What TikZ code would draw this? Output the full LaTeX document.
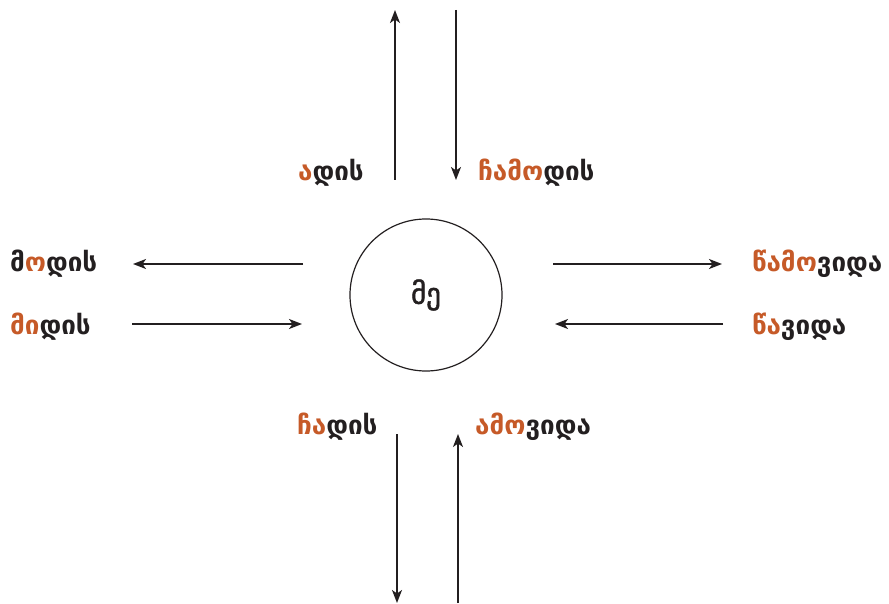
\documentclass[tikz,border=0pt]{standalone}
\usepackage{fontspec}
\setmainfont{DejaVu Sans}
\newfontfamily\mefont[FakeBold=1.6]{DejaVu Sans}
\usetikzlibrary{arrows.meta}
\definecolor{acc}{HTML}{C65A28}
\definecolor{ink}{HTML}{231F20}
\newcommand{\hl}[1]{\textcolor{acc}{#1}}
\tikzset{
  lbl/.style={font=\fontsize{26}{28}\selectfont\bfseries, text=ink, inner sep=0pt, anchor=base west},
  arr/.style={draw=ink, line width=1.6pt, -{Stealth[length=13pt,width=10pt,inset=3.5pt]}},
  me/.style={draw=ink, line width=1.2pt, circle, minimum size=152pt, inner sep=0pt, font=\mefont\fontsize{29}{31}\selectfont, text=ink}
}
\begin{document}
\begin{tikzpicture}[x=1pt,y=-1pt]
\useasboundingbox (0,0) rectangle (889,604);
\node[me] (c) at (426,295) {მე};
% vertical arrow endpoints
\coordinate (u1s) at (395,180); \coordinate (u1e) at (395,10);
\coordinate (d1s) at (456,10);  \coordinate (d1e) at (456,180);
\coordinate (d2s) at (397,434); \coordinate (d2e) at (397,603);
\coordinate (u2s) at (458,603); \coordinate (u2e) at (458,434);
% horizontal
\coordinate (l1s) at (303,264); \coordinate (l1e) at (133,264);
\coordinate (r1s) at (553,264); \coordinate (r1e) at (722,264);
\coordinate (r2s) at (132,324); \coordinate (r2e) at (302,324);
\coordinate (l2s) at (723,324); \coordinate (l2e) at (555,324);
\draw[arr] (u1s) -- (u1e);
\draw[arr] (d1s) -- (d1e);
\draw[arr] (d2s) -- (d2e);
\draw[arr] (u2s) -- (u2e);
\draw[arr] (l1s) -- (l1e);
\draw[arr] (r1s) -- (r1e);
\draw[arr] (r2s) -- (r2e);
\draw[arr] (l2s) -- (l2e);
% labels
\node[lbl] (adis) at (298,181) {\hl{ა}დის};
\node[lbl] (chamodis) at (478,181) {\hl{ჩამო}დის};
\node[lbl] (modis) at (10,272) {მ\hl{ო}დის};
\node[lbl] (midis) at (10,334) {\hl{მი}დის};
\node[lbl] (tsamovida) at (752,272) {\hl{წამო}ვიდა};
\node[lbl] (tsavida) at (752,334) {\hl{წა}ვიდა};
\node[lbl] (chadis) at (297,434) {\hl{ჩა}დის};
\node[lbl] (amovida) at (475,434) {\hl{ამო}ვიდა};
\end{tikzpicture}
\end{document}
